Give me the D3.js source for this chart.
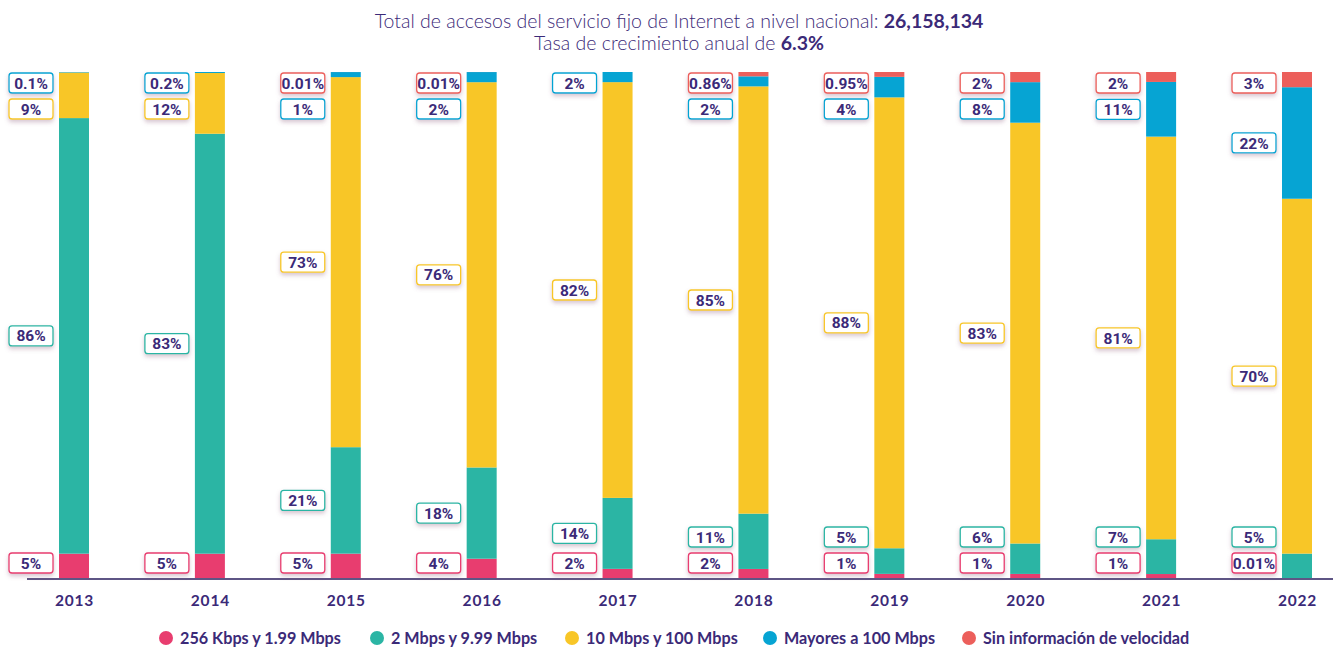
<!DOCTYPE html>
<html>
<head>
<meta charset="utf-8">
<script src="https://cdn.jsdelivr.net/npm/d3@7"></script>
<style>
  html, body { margin: 0; padding: 0; background: #fff; }
  svg { display: block; }
</style>
</head>
<body>
<svg id="chart" width="1342" height="647"></svg>
<script>
// Share of fixed Internet accesses by download speed, 2013–2022 (percent)
const years = ["2013","2014","2015","2016","2017","2018","2019","2020","2021","2022"];
const seriesNames = ["256 Kbps y 1.99 Mbps","2 Mbps y 9.99 Mbps","10 Mbps y 100 Mbps","Mayores a 100 Mbps","Sin información de velocidad"];
const seriesColors = ["#e83d6f","#2bb5a4","#f8c627","#06a4d3","#ec5f5b"];
const kbps256 = [5, 5, 5, 4, 2, 2, 1, 1, 1, 0.01];
const mbps2   = [86, 83, 21, 18, 14, 11, 5, 6, 7, 5];
const mbps10  = [9, 12, 73, 76, 82, 85, 88, 83, 81, 70];
const mbps100 = [0.1, 0.2, 1, 2, 2, 2, 4, 8, 11, 22];
const sinInfo = [0, 0, 0.01, 0.01, 0, 0.86, 0.95, 2, 2, 3];
const titleLine1 = "Total de accesos del servicio fijo de Internet a nivel nacional: ";
const titleValue1 = "26,158,134";
const titleLine2 = "Tasa de crecimiento anual de ";
const titleValue2 = "6.3%";

const seriesValues = [kbps256, mbps2, mbps10, mbps100, sinInfo];
const keys = seriesNames;
const rows = years.map((y, i) => {
  const r = { year: y };
  keys.forEach((k, j) => r[k] = seriesValues[j][i]);
  return r;
});

const textColor = "#3b2a78";
const svg = d3.select("#chart");

// soft shadow under the value boxes
const defs = svg.append("defs");
const f = defs.append("filter").attr("id", "boxShadow")
  .attr("x", "-30%").attr("y", "-40%").attr("width", "160%").attr("height", "200%");
f.append("feDropShadow").attr("dx", 0).attr("dy", 2.5).attr("stdDeviation", 2)
  .attr("flood-color", "#8a5a78").attr("flood-opacity", 0.35);

// title
const title = svg.append("text").attr("text-anchor", "middle")
  .attr("font-family", "Lato, 'Open Sans', sans-serif").attr("font-weight", 300)
  .attr("font-size", 19.5).attr("fill", textColor);
const t1 = title.append("tspan").attr("x", 679).attr("y", 28);
t1.append("tspan").text(titleLine1);
t1.append("tspan").attr("font-weight", "bold").text(titleValue1);
const t2 = title.append("tspan").attr("x", 679).attr("y", 50);
t2.append("tspan").text(titleLine2);
t2.append("tspan").attr("font-weight", "bold").text(titleValue2);

// scales
const x = d3.scalePoint().domain(years).range([74, 1297]);
const y = d3.scaleLinear().domain([0, 1]).range([579, 72]);
const barW = 30;

const stacked = d3.stack().keys(keys).offset(d3.stackOffsetExpand)(rows);

// bars
svg.append("g").selectAll("g").data(stacked).join("g")
  .attr("fill", (d, i) => seriesColors[i])
  .selectAll("rect").data(d => d).join("rect")
  .attr("x", d => x(d.data.year) - barW / 2)
  .attr("width", barW)
  .attr("y", d => y(d[1]))
  .attr("height", d => Math.max(0, y(d[0]) - y(d[1])));

// x axis
const axisG = svg.append("g").attr("transform", "translate(0,579)")
  .call(d3.axisBottom(x).tickSize(0).tickPadding(16));
axisG.select(".domain").attr("d", "M27,0H1333").attr("stroke", "#5e5585").attr("stroke-width", 2);
axisG.selectAll("text")
  .attr("font-family", "Lato, sans-serif").attr("font-weight", "bold")
  .attr("font-size", 15.5).attr("fill", textColor).attr("letter-spacing", 0.8);

// value boxes: centred on their segment, then spread so they never overlap
const boxW = 44, boxH = 20, gap = 26, yMin = 83, yMax = 563;
years.forEach((yr, i) => {
  const labels = [];
  stacked.forEach((s, j) => {
    const v = seriesValues[j][i];
    if (!v) return;
    const seg = s[i];
    labels.push({ j, v, cy: (y(seg[0]) + y(seg[1])) / 2 });
  });
  labels.sort((a, b) => a.cy - b.cy);
  labels.forEach(l => l.cy = Math.max(yMin, Math.min(yMax, l.cy)));
  for (let k = 1; k < labels.length; k++)
    labels[k].cy = Math.max(labels[k].cy, labels[k - 1].cy + gap);
  for (let k = labels.length - 1; k >= 0; k--) {
    const lim = k === labels.length - 1 ? yMax : labels[k + 1].cy - gap;
    labels[k].cy = Math.min(labels[k].cy, lim);
  }
  const bx = x(yr) - barW / 2 - 6 - boxW;
  const g = svg.append("g");
  labels.forEach(l => {
    g.append("rect")
      .attr("x", bx).attr("y", l.cy - boxH / 2)
      .attr("width", boxW).attr("height", boxH).attr("rx", 3)
      .attr("fill", "#fff").attr("stroke", seriesColors[l.j]).attr("stroke-width", 1.3)
      .attr("filter", "url(#boxShadow)");
    g.append("text")
      .attr("x", bx + boxW / 2).attr("y", l.cy)
      .attr("dy", "0.36em").attr("text-anchor", "middle")
      .attr("font-family", "Roboto, sans-serif").attr("font-weight", "bold")
      .attr("font-size", 15.5).attr("fill", textColor)
      .text(l.v + "%");
  });
});

// legend
const legendX = [166, 377, 572, 770, 969];
const legend = svg.append("g");
seriesNames.forEach((name, i) => {
  legend.append("circle").attr("cx", legendX[i]).attr("cy", 638).attr("r", 7)
    .attr("fill", seriesColors[i]);
  legend.append("text").attr("x", legendX[i] + 14).attr("y", 638).attr("dy", "0.35em")
    .attr("font-family", "Lato, sans-serif").attr("font-weight", "bold")
    .attr("font-size", 16.2).attr("fill", textColor).text(name);
});
</script>
</body>
</html>
